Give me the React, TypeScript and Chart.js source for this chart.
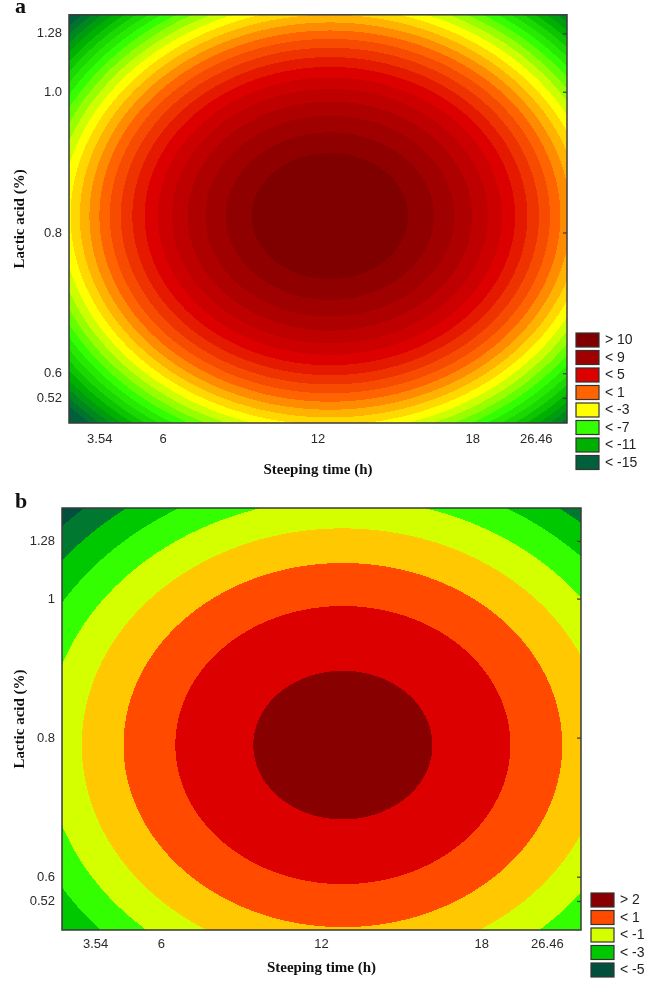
import React, { useEffect, useRef } from "react";
import { Chart, registerables } from "chart.js";

Chart.register(...registerables);

// ---------- axis ticks ----------
const X_TICK_VALUES = [3.54, 6, 12, 18, 20.46];
const X_TICK_LABELS = ["3.54", "6", "12", "18", "26.46"];
const Y_TICK_VALUES = [0.565, 0.6, 0.8, 1.0, 1.083];
const Y_TICK_LABELS_A = ["0.52", "0.6", "0.8", "1.0", "1.28"];
const Y_TICK_LABELS_B = ["0.52", "0.6", "0.8", "1", "1.28"];

// coded-unit steps of the design
const X_STEP = 6; // h
const Y_STEP = 0.2; // %

// ---------- panel a: fitted response surface ----------
const A_PEAK = 11.3;
const A_CENTER = [12.46, 0.824];
const A_CURVATURE = [5.1, 6.5];
const A_LEVELS = [10, 9, 8, 7, 6, 5, 4, 3, 2, 1, 0, -1, -2, -3, -4, -5, -6, -7, -8, -9, -10, -11, -12, -13, -14, -15];
const A_LEGEND_LABELS = ["> 10", "< 9", "< 5", "< 1", "< -3", "< -7", "< -11", "< -15"];
const A_LEGEND_BANDS = [0, 2, 6, 10, 14, 18, 22, 26];
const A_LEGEND_COLORS = ["#800000", "#a00000", "#dc0000", "#ff6400", "#ffff00", "#33ff00", "#00b000", "#00603c"];

// ---------- panel b: fitted response surface ----------
const B_PEAK = 2.4;
const B_CENTER = [12.8, 0.79];
const B_CURVATURE = [1.28, 1.4];
const B_LEVELS = [2, 1, 0, -1, -2, -3, -4, -5];
const B_BAND_COLORS = ["#880000", "#dd0000", "#ff4a00", "#ffc800", "#d4ff00", "#33ff00", "#00c800", "#007830", "#00503c"];
const B_LEGEND_LABELS = ["> 2", "< 1", "< -1", "< -3", "< -5"];
const B_LEGEND_BANDS = [0, 2, 4, 6, 8];

function hexToRgb(h: string): number[] {
  const n = parseInt(h.slice(1), 16);
  return [(n >> 16) & 255, (n >> 8) & 255, n & 255];
}

function interpolateBands(count: number, anchors: number[], colors: string[]): number[][] {
  const rgb = colors.map(hexToRgb);
  const out: number[][] = [];
  for (let b = 0; b < count; b++) {
    let k = 0;
    while (k < anchors.length - 2 && b > anchors[k + 1]) k++;
    const a0 = anchors[k], a1 = anchors[k + 1];
    const t = Math.max(0, Math.min(1, (b - a0) / (a1 - a0)));
    out.push([0, 1, 2].map((c) => Math.round(rgb[k][c] + (rgb[k + 1][c] - rgb[k][c]) * t)));
  }
  return out;
}

const A_BAND_RGB = interpolateBands(A_LEVELS.length + 1, A_LEGEND_BANDS, A_LEGEND_COLORS);
const B_BAND_RGB = B_BAND_COLORS.map(hexToRgb);

type Panel = {
  letter: string;
  height: number;
  padTop: number;
  padRight: number;
  yAxisWidth: number;
  xAxisHeight: number;
  xTickPad: number;
  xTitlePad: number;
  xMin: number;
  xMax: number;
  yMin: number;
  yMax: number;
  yLabels: string[];
  peak: number;
  center: number[];
  curv: number[];
  levels: number[];
  bandRgb: number[][];
  legendLabels: string[];
  legendBands: number[];
  legendX: number;
  legendTop: number;
  letterY: number;
};

const PANELS: Panel[] = [
  {
    letter: "a",
    height: 490,
    padTop: 13,
    padRight: 78,
    yAxisWidth: 69,
    xAxisHeight: 67,
    xTickPad: 9,
    xTitlePad: 11,
    xMin: 2.35,
    xMax: 21.65,
    yMin: 0.53,
    yMax: 1.11,
    yLabels: Y_TICK_LABELS_A,
    peak: A_PEAK,
    center: A_CENTER,
    curv: A_CURVATURE,
    levels: A_LEVELS,
    bandRgb: A_BAND_RGB,
    legendLabels: A_LEGEND_LABELS,
    legendBands: A_LEGEND_BANDS,
    legendX: 576,
    legendTop: 333,
    letterY: 13,
  },
  {
    letter: "b",
    height: 500,
    padTop: 18,
    padRight: 64,
    yAxisWidth: 62,
    xAxisHeight: 60,
    xTickPad: 7,
    xTitlePad: 13,
    xMin: 2.28,
    xMax: 21.72,
    yMin: 0.524,
    yMax: 1.131,
    yLabels: Y_TICK_LABELS_B,
    peak: B_PEAK,
    center: B_CENTER,
    curv: B_CURVATURE,
    levels: B_LEVELS,
    bandRgb: B_BAND_RGB,
    legendLabels: B_LEGEND_LABELS,
    legendBands: B_LEGEND_BANDS,
    legendX: 591,
    legendTop: 403,
    letterY: 18,
  },
];

function makePlugin(p: Panel) {
  return {
    id: "surface_" + p.letter,
    beforeDatasetsDraw(chart: any) {
      const { ctx, chartArea: ca, scales } = chart;
      const x0 = Math.round(ca.left), y0 = Math.round(ca.top);
      const w = Math.round(ca.right) - x0, h = Math.round(ca.bottom) - y0;
      const img = ctx.createImageData(w, h);
      const xs: number[] = [];
      for (let i = 0; i < w; i++) xs.push(scales.x.getValueForPixel(x0 + i + 0.5));
      for (let j = 0; j < h; j++) {
        const yv = scales.y.getValueForPixel(y0 + j + 0.5);
        const v = (yv - p.center[1]) / Y_STEP;
        for (let i = 0; i < w; i++) {
          const u = (xs[i] - p.center[0]) / X_STEP;
          const z = p.peak - p.curv[0] * u * u - p.curv[1] * v * v;
          let band = 0;
          for (let k = 0; k < p.levels.length; k++) if (z <= p.levels[k]) band = k + 1;
          const c = p.bandRgb[Math.min(band, p.bandRgb.length - 1)];
          const o = (j * w + i) * 4;
          img.data[o] = c[0];
          img.data[o + 1] = c[1];
          img.data[o + 2] = c[2];
          img.data[o + 3] = 255;
        }
      }
      ctx.putImageData(img, x0, y0);
    },
    afterDraw(chart: any) {
      const { ctx, chartArea: ca, scales } = chart;
      ctx.save();
      ctx.strokeStyle = "#3a3a3a";
      ctx.lineWidth = 1.5;
      ctx.strokeRect(ca.left, ca.top, ca.right - ca.left, ca.bottom - ca.top);
      ctx.lineWidth = 1.2;
      Y_TICK_VALUES.forEach((v) => {
        const y = scales.y.getPixelForValue(v);
        ctx.beginPath();
        ctx.moveTo(ca.right - 4, y);
        ctx.lineTo(ca.right, y);
        ctx.stroke();
      });
      ctx.font = '14px "Liberation Sans"';
      ctx.textBaseline = "middle";
      ctx.textAlign = "left";
      p.legendLabels.forEach((lab, i) => {
        const top = p.legendTop + i * 17.5;
        const c = p.bandRgb[p.legendBands[i]];
        ctx.fillStyle = `rgb(${c[0]},${c[1]},${c[2]})`;
        ctx.fillRect(p.legendX, top, 23, 14);
        ctx.strokeStyle = "#333";
        ctx.lineWidth = 1.2;
        ctx.strokeRect(p.legendX, top, 23, 14);
        ctx.fillStyle = "#222";
        ctx.fillText(lab, p.legendX + 29, top + 7.5);
      });
      ctx.font = 'bold 22px "Liberation Serif"';
      ctx.textBaseline = "alphabetic";
      ctx.fillStyle = "#111";
      ctx.fillText(p.letter, 15, p.letterY);
      ctx.restore();
    },
  };
}

function PanelChart({ p, top }: { p: Panel; top: number }) {
  const ref = useRef<HTMLCanvasElement | null>(null);
  useEffect(() => {
    if (!ref.current) return;
    const chart = new Chart(ref.current, {
      type: "scatter",
      data: { datasets: [{ data: [] }] },
      plugins: [makePlugin(p)],
      options: {
        animation: false,
        responsive: false,
        devicePixelRatio: 1,
        layout: { padding: { top: p.padTop, right: p.padRight, left: 0, bottom: 0 } },
        plugins: { legend: { display: false }, tooltip: { enabled: false } },
        scales: {
          x: {
            type: "linear",
            min: p.xMin,
            max: p.xMax,
            afterBuildTicks: (s: any) => {
              s.ticks = X_TICK_VALUES.map((v) => ({ value: v }));
            },
            afterFit: (s: any) => {
              s.height = p.xAxisHeight;
            },
            grid: { display: false, drawTicks: false },
            border: { display: false },
            ticks: {
              autoSkip: false,
              maxRotation: 0,
              padding: p.xTickPad,
              color: "#2a2a2a",
              font: { family: "Liberation Sans", size: 13 },
              callback: (_v: any, i: number) => X_TICK_LABELS[i],
            },
            title: {
              display: true,
              text: "Steeping time (h)",
              color: "#111",
              font: { family: "Liberation Serif", size: 15, weight: "bold" },
              padding: { top: 0, bottom: p.xTitlePad },
            },
          },
          y: {
            type: "linear",
            min: p.yMin,
            max: p.yMax,
            afterBuildTicks: (s: any) => {
              s.ticks = Y_TICK_VALUES.map((v) => ({ value: v }));
            },
            afterFit: (s: any) => {
              s.width = p.yAxisWidth;
            },
            grid: { display: false, drawTicks: false },
            border: { display: false },
            ticks: {
              autoSkip: false,
              padding: 7,
              color: "#2a2a2a",
              font: { family: "Liberation Sans", size: 13 },
              callback: (_v: any, i: number) => p.yLabels[i],
            },
            title: {
              display: true,
              text: "Lactic acid (%)",
              color: "#111",
              font: { family: "Liberation Serif", size: 15, weight: "bold" },
              padding: { top: 11, bottom: 0 },
            },
          },
        },
      } as any,
    });
    return () => chart.destroy();
  }, [p]);
  return (
    <div style={{ position: "absolute", left: 0, top, width: 645, height: p.height }}>
      <canvas ref={ref} width={645} height={p.height} style={{ display: "block" }} />
    </div>
  );
}

export default function App() {
  return (
    <div style={{ position: "absolute", left: 0, top: 0, width: 645, height: 990, background: "#fff" }}>
      <PanelChart p={PANELS[0]} top={0} />
      <PanelChart p={PANELS[1]} top={490} />
    </div>
  );
}
